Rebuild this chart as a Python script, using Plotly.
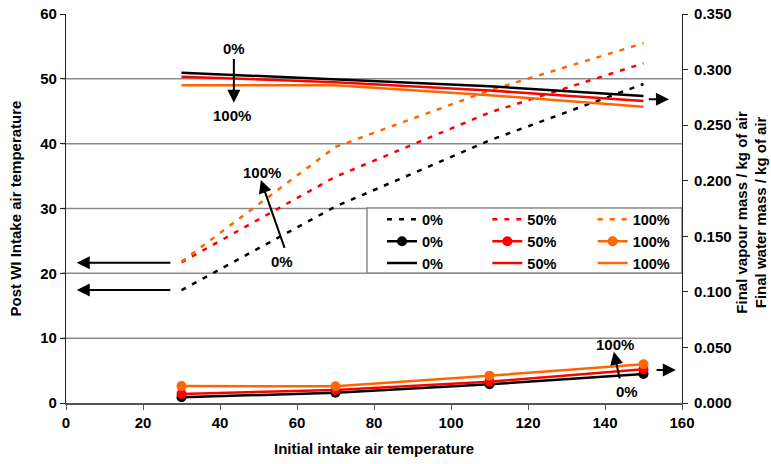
import plotly.graph_objects as go

# ---------------- data ----------------
x_temp = [30, 70, 110, 150]
pct_labels = ["0%", "50%", "100%"]
colors = ["#000000", "#FF0000", "#FF6600"]

# Post WI intake air temperature (left axis, dashed)
temp_0 = [17.4, 30.3, 40.5, 49.2]
temp_50 = [21.7, 34.9, 44.8, 52.4]
temp_100 = [21.8, 39.5, 48.2, 55.5]

# Final water mass / kg of air (right axis, markers)
water_0 = [0.0051, 0.0093, 0.0168, 0.0261]
water_50 = [0.0081, 0.0117, 0.0192, 0.0303]
water_100 = [0.0152, 0.0150, 0.0246, 0.0348]

# Final vapour mass / kg of air (right axis, solid)
vapour_0 = [0.2972, 0.2913, 0.2850, 0.2763]
vapour_50 = [0.2936, 0.2886, 0.2812, 0.2717]
vapour_100 = [0.2858, 0.2860, 0.2770, 0.2666]

x_ticks = [0, 20, 40, 60, 80, 100, 120, 140, 160]
y_ticks = [0, 10, 20, 30, 40, 50, 60]
y2_ticks = [0.0, 0.05, 0.10, 0.15, 0.20, 0.25, 0.30, 0.35]
grid_vals = [10, 20, 30, 40, 50]

FONT = "Liberation Sans, Arial, sans-serif"
FS = 15

fig = go.Figure()
legends = ["legend", "legend2", "legend3"]
temps = [temp_0, temp_50, temp_100]
waters = [water_0, water_50, water_100]
vapours = [vapour_0, vapour_50, vapour_100]

for i in range(3):
    fig.add_trace(go.Scatter(x=x_temp, y=temps[i], mode="lines", name=pct_labels[i],
                             line=dict(color=colors[i], width=2.5, dash="5px,7px"),
                             legend=legends[i], legendrank=1))
for i in range(3):
    fig.add_trace(go.Scatter(x=x_temp, y=waters[i], mode="lines+markers", name=pct_labels[i],
                             line=dict(color=colors[i], width=2.5),
                             marker=dict(color=colors[i], size=10, symbol="circle"),
                             yaxis="y2", legend=legends[i], legendrank=2))
for i in range(3):
    fig.add_trace(go.Scatter(x=x_temp, y=vapours[i], mode="lines", name=pct_labels[i],
                             line=dict(color=colors[i], width=2.5),
                             yaxis="y2", legend=legends[i], legendrank=3))

# gridlines (no line at the top)
shapes = []
for g in grid_vals:
    shapes.append(dict(type="line", xref="paper", yref="y", x0=-0.007, x1=1, y0=g, y1=g,
                       line=dict(color="#8c8c8c", width=1.5), layer="below"))
# legend box
shapes.append(dict(type="rect", xref="paper", yref="paper", x0=0.4886, x1=1.0, y0=0.3342, y1=0.5013,
                   line=dict(color="#8c8c8c", width=1.5), fillcolor="white", layer="below"))

afont = dict(family=FONT, size=FS, color="black", weight="bold")
annotations = []
# arrows (tail -> tip) in data coords
arrows = [
    ((43.6, 53.3), (43.6, 46.3)),
    ((56.9, 23.7), (50.6, 34.4)),
    ((143.9, 3.55), (142.3, 7.9)),
    ((151.0, 46.85), (156.6, 46.85)),
    ((153.0, 5.1), (158.4, 5.1)),
    ((27.5, 21.64), (2.8, 21.64)),
    ((27.5, 17.43), (2.8, 17.43)),
]
for (tx, ty), (hx, hy) in arrows:
    annotations.append(dict(x=hx, y=hy, ax=tx, ay=ty, xref="x", yref="y", axref="x", ayref="y",
                            text="", showarrow=True, arrowhead=2, arrowsize=1.3, arrowwidth=2,
                            arrowcolor="black"))
labels = [
    (43.6, 54.7, "0%"), (43.0, 44.4, "100%"),
    (50.8, 35.5, "100%"), (56.2, 21.8, "0%"),
    (142.6, 8.95, "100%"), (145.6, 1.74, "0%"),
]
for lx, ly, t in labels:
    annotations.append(dict(x=lx, y=ly, xref="x", yref="y", text=t, showarrow=False,
                            font=afont, xanchor="center", yanchor="middle"))

# axis titles
annotations.append(dict(x=0.5, y=-0.1157, xref="paper", yref="paper", showarrow=False,
                        text="Initial intake air temperature", font=afont,
                        xanchor="center", yanchor="middle"))
annotations.append(dict(x=-0.0812, y=0.5, xref="paper", yref="paper", showarrow=False,
                        text="Post WI Intake air temperature", font=afont, textangle=-90,
                        xanchor="center", yanchor="middle"))
annotations.append(dict(x=1.1115, y=0.491, xref="paper", yref="paper", showarrow=False,
                        text="Final vapour mass / kg of air<br>Final water mass / kg of air",
                        font=afont, textangle=-90, xanchor="center", yanchor="middle"))

leg_common = dict(orientation="v", xanchor="left", yanchor="top", y=0.513,
                  bgcolor="rgba(0,0,0,0)", borderwidth=0, itemwidth=30,
                  font=dict(family=FONT, size=14.5, color="black", weight="bold"),
                  tracegroupgap=0)

axis_font = dict(family=FONT, size=FS, weight="bold", color="black")

fig.update_layout(
    template="none",
    width=771, height=464,
    margin=dict(l=66, r=89, t=14, b=61, autoexpand=False),
    paper_bgcolor="white", plot_bgcolor="white",
    font=dict(family=FONT, size=FS, color="black", weight="bold"),
    showlegend=True,
    legend=dict(leg_common, x=0.513),
    legend2=dict(leg_common, x=0.684),
    legend3=dict(leg_common, x=0.855),
    xaxis=dict(range=[0, 160], tickvals=x_ticks, showgrid=False, zeroline=False, automargin=False,
               showline=True, linecolor="#555555", linewidth=1.5, ticklabeloverflow="allow",
               ticks="outside", ticklen=5, tickcolor="#555555", tickfont=axis_font),
    yaxis=dict(range=[0, 60], tickvals=y_ticks, showgrid=False, zeroline=False, automargin=False,
               showline=True, linecolor="#222222", linewidth=1.2, ticklabeloverflow="allow",
               ticks="outside", ticklen=5, tickcolor="#222222", tickfont=axis_font),
    yaxis2=dict(range=[0, 0.35], tickvals=y2_ticks, tickformat=".3f", overlaying="y", side="right",
                showgrid=False, zeroline=False, automargin=False, ticklabeloverflow="allow",
                showline=True, linecolor="#222222", linewidth=1.2,
                ticks="outside", ticklen=5, tickcolor="#222222", tickfont=axis_font,
                ticklabelstandoff=3),
    shapes=shapes,
    annotations=annotations,
)

fig.write_html("out.html", config={"displayModeBar": False},
               post_script="document.body.style.margin='0px';document.body.style.padding='0px';")
